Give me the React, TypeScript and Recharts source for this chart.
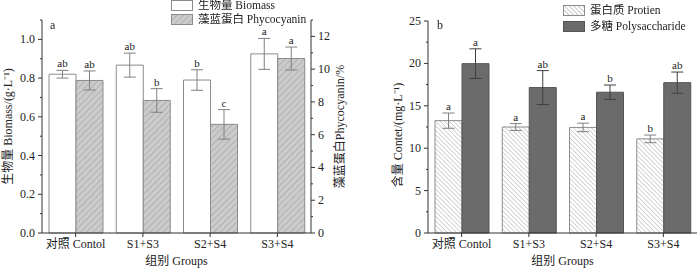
import { BarChart, Bar, XAxis, YAxis, ErrorBar, LabelList, Legend } from "recharts";

// groups on the x axis (same for both panels)
const groups = ["对照 Contol", "S1+S3", "S2+S4", "S3+S4"];

// panel a
const biomass = [0.82, 0.867, 0.79, 0.925];
const biomassErr = [0.02, 0.062, 0.053, 0.08];
const biomassSig = ["ab", "ab", "b", "a"];
const phycocyanin = [9.31, 8.09, 6.63, 10.65];
const phycocyaninErr = [0.58, 0.72, 0.9, 0.7];
const phycocyaninSig = ["ab", "b", "c", "a"];

// panel b
const protein = [13.25, 12.5, 12.45, 11.1];
const proteinErr = [0.9, 0.4, 0.5, 0.45];
const proteinSig = ["a", "a", "a", "b"];
const polysaccharide = [19.97, 17.15, 16.6, 17.73];
const polysaccharideErr = [1.75, 2.0, 0.85, 1.25];
const polysaccharideSig = ["a", "ab", "b", "ab"];

// axis ticks (majors get a label, the rest are minor ticks)
const biomassTicks = [0, 0.1, 0.2, 0.3, 0.4, 0.5, 0.6, 0.7, 0.8, 0.9, 1.0, 1.1];
const biomassMajor = [0, 0.2, 0.4, 0.6, 0.8, 1.0];
const phycoTicks = [0, 1, 2, 3, 4, 5, 6, 7, 8, 9, 10, 11, 12, 13];
const phycoMajor = [0, 2, 4, 6, 8, 10, 12];
const contentTicks = [0, 2.5, 5, 7.5, 10, 12.5, 15, 17.5, 20, 22.5, 25];
const contentMajor = [0, 5, 10, 15, 20, 25];

const dataA = groups.map((g, i) => ({
  group: g,
  biomass: biomass[i],
  biomassErr: biomassErr[i],
  phyco: phycocyanin[i],
  phycoErr: phycocyaninErr[i],
}));

const dataB = groups.map((g, i) => ({
  group: g,
  protein: protein[i],
  proteinErr: proteinErr[i],
  poly: polysaccharide[i],
  polyErr: polysaccharideErr[i],
}));

const FONT = "'Liberation Serif', 'Noto Sans CJK SC', serif";
const AXIS = "#333";
const BAR_STROKE = "#8c8c8c";

// y tick with outward tick mark, shorter for minor ticks
const yTick = (major: number[], side: "left" | "right", digits: number) => (props: any) => {
  const { x, y, payload } = props;
  const v = payload.value;
  const isMajor = major.some((m) => Math.abs(m - v) < 1e-6);
  const len = isMajor ? 4 : 2;
  const dir = side === "left" ? -1 : 1;
  return (
    <g>
      <line x1={x} x2={x + dir * len} y1={y} y2={y} stroke={AXIS} />
      {isMajor && (
        <text
          x={x + dir * 7}
          y={y}
          dy={4}
          textAnchor={side === "left" ? "end" : "start"}
          fontSize={12}
          fill="#222"
        >
          {v.toFixed(digits)}
        </text>
      )}
    </g>
  );
};

// rotated axis title, placed relative to the axis box
const sideLabel = (text: any, dx: number, dy = 0) => (props: any) => {
  const vb = props.viewBox;
  const cx = vb.x + dx;
  const cy = vb.y + vb.height / 2 + dy;
  return (
    <text
      x={cx}
      y={cy}
      transform={`rotate(-90, ${cx}, ${cy})`}
      textAnchor="middle"
      dominantBaseline="central"
      fontSize={12}
      fill="#222"
    >
      {text}
    </text>
  );
};

// x axis title, near the bottom of the axis box
const bottomLabel = (text: string) => (props: any) => {
  const vb = props.viewBox;
  return (
    <text
      x={vb.x + vb.width / 2}
      y={vb.y + vb.height - 7}
      textAnchor="middle"
      dominantBaseline="central"
      fontSize={12}
      fill="#222"
    >
      {text}
    </text>
  );
};

// significance letter above the error bar
const sigLabel = (letters: string[], errs: number[]) => (props: any) => {
  const { x, y, width, height, index, value } = props;
  const perUnit = Number(height) / Number(value);
  const top = Number(y) - errs[index] * perUnit;
  return (
    <text x={Number(x) + Number(width) / 2} y={top - 3} textAnchor="middle" fontSize={11} fill="#222">
      {letters[index]}
    </text>
  );
};

const Swatch = ({ kind }: { kind: string }) => (
  <svg width={22} height={11} style={{ display: "block" }}>
    <defs>
      <pattern id={`lg-${kind}`} width={kind === "up" ? 4.5 : 3.2} height={6} patternUnits="userSpaceOnUse" patternTransform={`rotate(${kind === "up" ? 45 : -45})`}>
        <rect width={6} height={6} fill={kind === "up" ? "#cbcbcb" : "#fff"} />
        <line x1={0} y1={0} x2={0} y2={6} stroke={kind === "up" ? "#8f8f8f" : "#8a8a8a"} strokeWidth={0.9} />
      </pattern>
    </defs>
    <rect
      x={0.5}
      y={0.5}
      width={21}
      height={10}
      fill={kind === "white" ? "#fff" : kind === "dark" ? "#6b6b6b" : `url(#lg-${kind})`}
      stroke={kind === "dark" ? "#555" : BAR_STROKE}
    />
  </svg>
);

const legendContent = (items: { kind: string; label: string }[], rowGap: number) => () => (
  <div style={{ display: "flex", flexDirection: "column", gap: rowGap, fontFamily: FONT, fontSize: 11.5, color: "#222" }}>
    {items.map((it) => (
      <div key={it.label} style={{ display: "flex", alignItems: "center", gap: 5, height: 11, lineHeight: "11px" }}>
        <Swatch kind={it.kind} />
        <span style={{ whiteSpace: "nowrap", lineHeight: "11px" }}>{it.label}</span>
      </div>
    ))}
  </div>
);

export default function App() {
  return (
    <div
      style={{
        position: "fixed",
        left: 0,
        top: 0,
        width: 700,
        height: 268,
        background: "#fff",
        fontFamily: FONT,
      }}
    >
      <div style={{ position: "absolute", left: 0, top: 0 }}>
        <BarChart
          width={350}
          height={268}
          data={dataA}
          margin={{ top: 20, right: 0, bottom: 0, left: 0 }}
          barGap={0}
          barSize={27}
        >
          <defs>
            <pattern id="hatchUp" width={4.5} height={6} patternUnits="userSpaceOnUse" patternTransform="rotate(45)">
              <rect width={6} height={6} fill="#cbcbcb" />
              <line x1={0} y1={0} x2={0} y2={6} stroke="#8f8f8f" strokeWidth={0.9} />
            </pattern>
          </defs>
          <XAxis
            dataKey="group"
            height={35}
            stroke={AXIS}
            tickSize={4}
            tickMargin={2}
            tick={{ fontSize: 12, fill: "#222" }}
            interval={0}
            label={{ content: bottomLabel("组别 Groups") }}
          />
          <YAxis
            yAxisId="left"
            width={42}
            domain={[0, 1.1]}
            ticks={biomassTicks}
            interval={0}
            stroke={AXIS}
            tickLine={false}
            tickSize={0}
            tickMargin={0}
            tick={yTick(biomassMajor, "left", 1)}
            label={{ content: sideLabel("生物量 Biomass/(g·L⁻¹)", 8) }}
          />
          <YAxis
            yAxisId="right"
            orientation="right"
            width={39}
            domain={[0, 13]}
            ticks={phycoTicks}
            interval={0}
            stroke={AXIS}
            tickLine={false}
            tickSize={0}
            tickMargin={0}
            tick={yTick(phycoMajor, "right", 0)}
            label={{ content: sideLabel("藻蓝蛋白Phycocyanin/%", 29) }}
          />
          <Legend
            layout="horizontal"
            verticalAlign="middle"
            align="center"
            wrapperStyle={{ top: 0, left: 171, width: "auto", height: "auto" }}
            content={legendContent(
              [
                { kind: "white", label: "生物量 Biomass" },
                { kind: "up", label: "藻蓝蛋白 Phycocyanin" },
              ],
              3
            )}
          />
          <Bar yAxisId="left" dataKey="biomass" name="生物量 Biomass" fill="#fff" stroke={BAR_STROKE} isAnimationActive={false}>
            <ErrorBar dataKey="biomassErr" width={6} stroke="#808080" strokeWidth={1} direction="y" />
            <LabelList dataKey="biomass" content={sigLabel(biomassSig, biomassErr)} />
          </Bar>
          <Bar yAxisId="right" dataKey="phyco" name="藻蓝蛋白 Phycocyanin" fill="url(#hatchUp)" stroke={BAR_STROKE} isAnimationActive={false}>
            <ErrorBar dataKey="phycoErr" width={6} stroke="#808080" strokeWidth={1} direction="y" />
            <LabelList dataKey="phyco" content={sigLabel(phycocyaninSig, phycocyaninErr)} />
          </Bar>
        </BarChart>
        <div style={{ position: "absolute", left: 50, top: 18, fontSize: 12, color: "#222" }}>a</div>
      </div>

      <div style={{ position: "absolute", left: 350, top: 0 }}>
        <BarChart
          width={350}
          height={268}
          data={dataB}
          margin={{ top: 21, right: 3, bottom: 0, left: 0 }}
          barGap={0}
          barSize={27}
        >
          <defs>
            <pattern id="hatchDown" width={3.2} height={6} patternUnits="userSpaceOnUse" patternTransform="rotate(-45)">
              <rect width={6} height={6} fill="#fff" />
              <line x1={0} y1={0} x2={0} y2={6} stroke="#8a8a8a" strokeWidth={0.8} />
            </pattern>
          </defs>
          <XAxis
            dataKey="group"
            height={35}
            stroke={AXIS}
            tickSize={4}
            tickMargin={2}
            tick={{ fontSize: 12, fill: "#222" }}
            interval={0}
            label={{ content: bottomLabel("组别 Groups") }}
          />
          <YAxis
            width={78}
            domain={[0, 25]}
            ticks={contentTicks}
            interval={0}
            stroke={AXIS}
            tickLine={false}
            tickSize={0}
            tickMargin={0}
            tick={yTick(contentMajor, "left", 0)}
            label={{ content: sideLabel("含量 Contet/(mg·L⁻¹)", 48, 8) }}
          />
          <Legend
            layout="horizontal"
            verticalAlign="middle"
            align="center"
            wrapperStyle={{ top: 5, left: 213, width: "auto", height: "auto" }}
            content={legendContent(
              [
                { kind: "down", label: "蛋白质 Protien" },
                { kind: "dark", label: "多糖 Polysaccharide" },
              ],
              5
            )}
          />
          <Bar dataKey="protein" name="蛋白质 Protien" fill="url(#hatchDown)" stroke={BAR_STROKE} isAnimationActive={false}>
            <ErrorBar dataKey="proteinErr" width={6} stroke="#808080" strokeWidth={1} direction="y" />
            <LabelList dataKey="protein" content={sigLabel(proteinSig, proteinErr)} />
          </Bar>
          <Bar dataKey="poly" name="多糖 Polysaccharide" fill="#6b6b6b" stroke="#555" isAnimationActive={false}>
            <ErrorBar dataKey="polyErr" width={6} stroke="#3f3f3f" strokeWidth={1} direction="y" />
            <LabelList dataKey="poly" content={sigLabel(polysaccharideSig, polysaccharideErr)} />
          </Bar>
        </BarChart>
        <div style={{ position: "absolute", left: 87, top: 18, fontSize: 12, color: "#222" }}>b</div>
      </div>
    </div>
  );
}
